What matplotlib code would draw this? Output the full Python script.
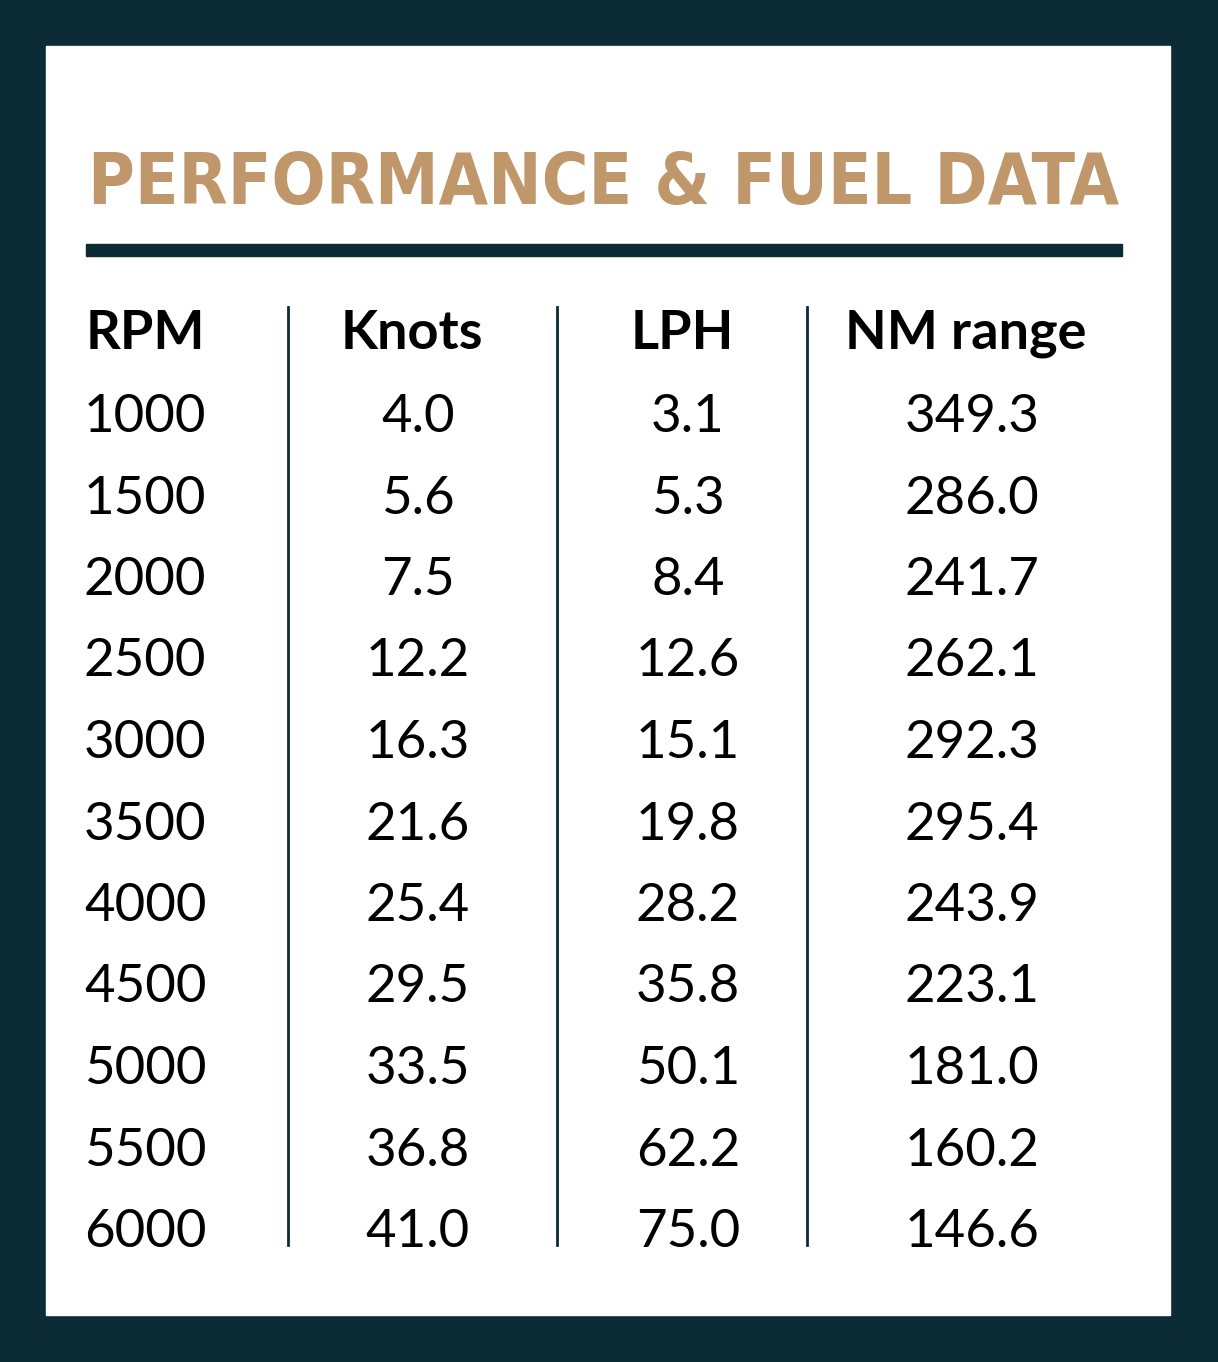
import matplotlib
matplotlib.use("Agg")
import matplotlib.pyplot as plt
from matplotlib.patches import Rectangle

title = "PERFORMANCE & FUEL DATA"
headers = ["RPM", "Knots", "LPH", "NM range"]
rpm = ["1000", "1500", "2000", "2500", "3000", "3500", "4000", "4500", "5000", "5500", "6000"]
knots = ["4.0", "5.6", "7.5", "12.2", "16.3", "21.6", "25.4", "29.5", "33.5", "36.8", "41.0"]
lph = ["3.1", "5.3", "8.4", "12.6", "15.1", "19.8", "28.2", "35.8", "50.1", "62.2", "75.0"]
nm_range = ["349.3", "286.0", "241.7", "262.1", "292.3", "295.4", "243.9", "223.1", "181.0", "160.2", "146.6"]

dark = "#0b2c35"
gold = "#c0976a"
W, H = 1218, 1362
fig = plt.figure(figsize=(W/100, H/100), dpi=100)
ax = fig.add_axes([0, 0, 1, 1])
ax.set_xlim(0, W); ax.set_ylim(H, 0); ax.axis("off")
ax.add_patch(Rectangle((0, 0), W, H, color=dark))
ax.add_patch(Rectangle((46, 46), 1124, 1269, color="white"))

t = ax.text(88, 204, title, fontsize=92, family="DejaVu Sans", fontstretch="condensed",
            weight="bold", color=gold, ha="left", va="baseline")
r = fig.canvas.get_renderer()
w = t.get_window_extent(r).width
if w > 1030:
    t.set_fontsize(92 * 1030 / w)
ax.add_patch(Rectangle((86, 244), 1036, 12, color=dark))

cols = [rpm, knots, lph, nm_range]
xs = [84, 418, 688, 972]
has = ["left", "center", "center", "center"]
for h, x, ha in zip(headers, xs, has):
    ax.text(x + (2 if ha == "left" else -6), 349, h, fontsize=39, family="Lato", weight="bold",
            color="black", ha=ha, va="baseline")
y0, dy = 432, 81.5
for col, x, ha in zip(cols, xs, has):
    for i, v in enumerate(col):
        ax.text(x, y0 + i*dy, v, fontsize=38, family="Lato", weight="normal",
                color="black", ha=ha, va="baseline")
for x in [288, 557, 807]:
    ax.plot([x, x], [307, 1245], color=dark, lw=2)

fig.savefig("out.png", dpi=100)
